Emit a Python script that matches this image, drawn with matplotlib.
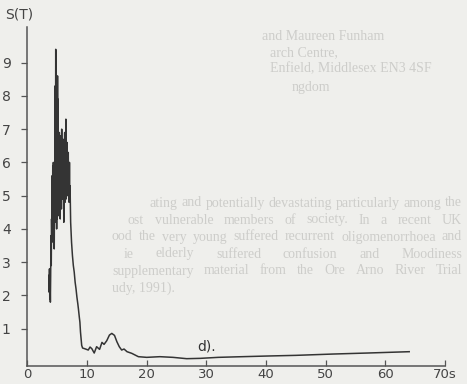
import matplotlib
matplotlib.use("Agg")
import matplotlib.pyplot as plt

# time (s) and S(T)
burst_t = [3.60, 3.65, 3.70, 3.75, 3.80, 3.85, 3.90, 3.95, 4.00, 4.05,
           4.10, 4.15, 4.20, 4.25, 4.30, 4.35, 4.40, 4.45, 4.50, 4.55,
           4.60, 4.65, 4.70, 4.75, 4.80, 4.85, 4.90, 4.95, 5.00, 5.05,
           5.10, 5.15, 5.20, 5.25, 5.30, 5.35, 5.40, 5.45, 5.50, 5.55,
           5.60, 5.65, 5.70, 5.75, 5.80, 5.85, 5.90, 5.95, 6.00, 6.05,
           6.10, 6.15, 6.20, 6.25, 6.30, 6.35, 6.40, 6.45, 6.50, 6.55,
           6.60, 6.65, 6.70, 6.75, 6.80, 6.85, 6.90, 6.95, 7.00, 7.05,
           7.10, 7.15]
burst_s = [2.6, 2.1, 2.8, 1.9, 2.4, 1.8, 2.6, 3.8, 2.9, 4.3,
           3.6, 5.6, 4.1, 5.9, 3.9, 6.0, 4.6, 5.2, 3.4, 5.8,
           4.2, 8.3, 4.5, 9.4, 5.1, 8.2, 4.0, 6.6, 4.3, 8.6,
           4.8, 7.9, 4.4, 6.4, 4.9, 6.9, 5.0, 6.2, 4.3, 6.8,
           5.2, 6.1, 4.6, 7.0, 5.4, 6.3, 4.9, 6.7, 5.1, 5.9,
           4.2, 6.5, 5.3, 6.9, 4.8, 6.2, 5.5, 7.3, 4.9, 6.4,
           5.2, 6.6, 5.0, 6.1, 5.5, 6.3, 5.0, 5.6, 4.8, 6.0,
           4.9, 5.3]

decay_t = [7.25, 7.40, 7.55, 7.70, 7.85, 8.00, 8.15, 8.30, 8.45,
           8.55, 8.70, 8.80, 8.90, 9.00, 9.10, 9.25]
decay_s = [4.2, 3.6, 3.2, 2.9, 2.7, 2.4, 2.2, 1.95, 1.75,
           1.6, 1.35, 1.2, 0.9, 0.7, 0.5, 0.42]

tail_t = [9.6, 10.2, 10.5, 10.8, 11.2, 11.6, 12.1, 12.5, 12.85, 13.3,
          13.75, 14.15, 14.6, 15.0, 15.4, 15.8, 16.2, 16.7, 17.5, 18.6,
          20.0, 22.2, 24.4, 26.7, 29.0, 32.0, 36.0, 40.2, 45.0, 51.3,
          57.0, 64.0]
tail_s = [0.40, 0.36, 0.45, 0.40, 0.27, 0.46, 0.38, 0.59, 0.53, 0.64,
          0.81, 0.86, 0.80, 0.61, 0.46, 0.36, 0.39, 0.31, 0.26, 0.16,
          0.14, 0.16, 0.14, 0.10, 0.11, 0.14, 0.16, 0.18, 0.20, 0.24,
          0.27, 0.31]

x_ticks = [0, 10, 20, 30, 40, 50, 60, 70]
x_labels = ["0", "10", "20", "30", "40", "50", "60", "70s"]
y_ticks = [1, 2, 3, 4, 5, 6, 7, 8, 9]

# faint text showing through from the other side of the page
# (left px, centre px, text, justified to the right edge?)
ghost_lines = [
    (262, 37, "and Maureen Funham", False),
    (270, 53, "arch Centre,", False),
    (270, 69, "Enfield, Middlesex EN3 4SF", False),
    (292, 87, "ngdom", False),
    (150, 203, "ating and potentially devastating particularly among the", True),
    (128, 220, "ost vulnerable members of society. In a recent UK", True),
    (112, 237, "ood the very young suffered recurrent oligomenorrhoea and", True),
    (124, 254, "ie elderly suffered confusion and Moodiness", True),
    (112, 271, "supplementary material from the Ore Arno River Trial", True),
    (112, 288, "udy, 1991).", False),
]

W, H = 467, 384
paper = "#efefec"
ink = "#343434"
ghost_style = dict(fontsize=10, family="Liberation Serif", color="#cdcdca",
                   ha="left", va="center")


def put_justified(fig, renderer, left, y, line, right=462):
    words = line.split()
    texts = [fig.text(0, 1 - y / H, w, **ghost_style) for w in words]
    widths = [tx.get_window_extent(renderer).width for tx in texts]
    gap = (right - left - sum(widths)) / max(len(words) - 1, 1)
    gap = max(gap, 2.5)
    x = left
    for tx, w in zip(texts, widths):
        tx.set_x(x / W)
        x += w + gap


fig = plt.figure(figsize=(W / 100, H / 100), dpi=100, facecolor=paper)
renderer = fig.canvas.get_renderer()

for px, py, line, justify in ghost_lines:
    if justify:
        put_justified(fig, renderer, px, py, line)
    else:
        fig.text(px / W, 1 - py / H, line, **ghost_style)

ax = fig.add_axes([27.4 / W, (H - 366) / H, (445 - 27.4) / W, (366 - 27) / H])
ax.set_facecolor("none")

t = burst_t + decay_t + tail_t
s = burst_s + decay_s + tail_s
ax.plot(t, s, color=ink, linewidth=1.1)

ax.set_xlim(0, 70)
ax.set_ylim(-0.12, 10.07)
for side in ("top", "right"):
    ax.spines[side].set_visible(False)
for side in ("left", "bottom"):
    ax.spines[side].set_color("#555555")
    ax.spines[side].set_linewidth(1.1)

ax.set_xticks(x_ticks)
ax.set_xticklabels(x_labels)
ax.set_yticks(y_ticks)
ax.tick_params(axis="x", direction="in", length=4, width=0.9, pad=1.5,
               colors="#555555", labelsize=9.5, labelcolor="#444444")
ax.tick_params(axis="y", direction="out", length=4, width=0.9, pad=8,
               colors="#555555", labelsize=10, labelcolor="#444444")

fig.text(5 / W, 1 - 14 / H, "S(T)", fontsize=10, color="#444444",
         ha="left", va="center")
fig.text(197 / W, 1 - 346 / H, "d).", fontsize=10, color="#333333",
         ha="left", va="center")

fig.savefig("out.png", dpi=100, facecolor=paper)
plt.close(fig)
